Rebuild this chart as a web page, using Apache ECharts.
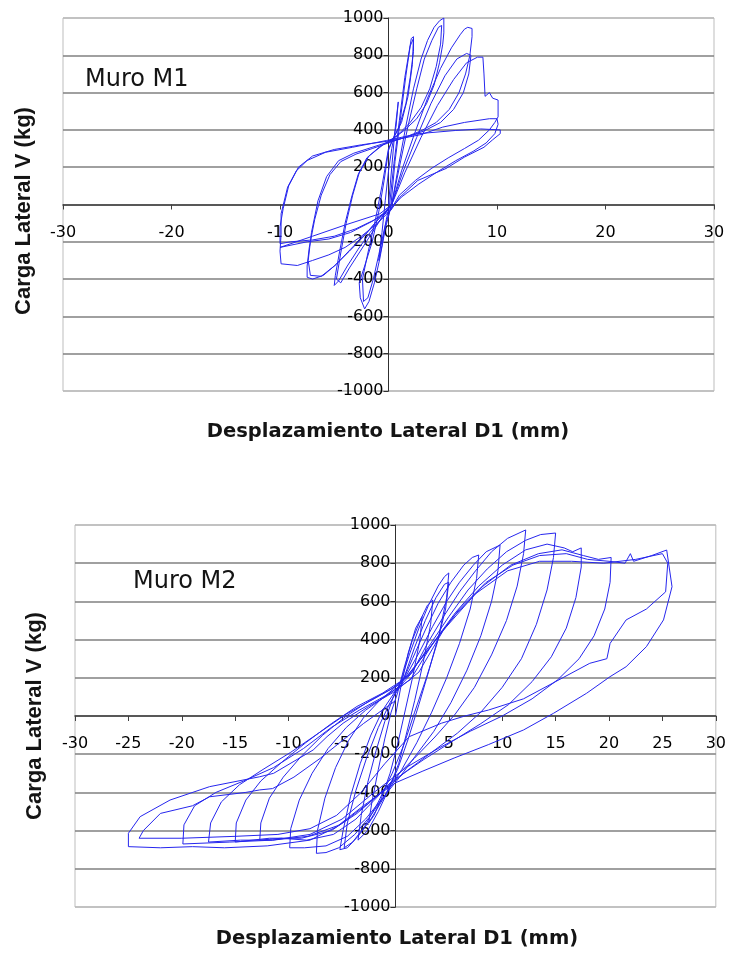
<!DOCTYPE html>
<html>
<head>
<meta charset="utf-8">
<script src="https://cdn.jsdelivr.net/npm/echarts@6/dist/echarts.min.js"></script>
<style>
html,body{margin:0;padding:0;background:#fff;}
#chart{width:729px;height:962px;}
</style>
</head>
<body>
<div id="chart"></div>
<script>
// ---- Tick values ----
const yTicks = [-1000, -800, -600, -400, -200, 0, 200, 400, 600, 800, 1000];
const m1XTicks = [-30, -20, -10, 0, 10, 20, 30];
const m2XTicks = [-30, -25, -20, -15, -10, -5, 0, 5, 10, 15, 20, 25, 30];

// ---- Muro M1 : [displacement mm, load kg] per cycle ----
const m1C1 = [[0,0],[0.3,200],[0.6,400],[0.9,550],[0.7,420],[0.3,300],[0,180],[-0.3,20],[-0.6,-150],[-0.9,-300],[-0.6,-220],[-0.2,-80],[0.1,0]];
const m1C2 = [[0.5,220],[1.0,450],[1.5,680],[1.9,820],[2.1,890],[2.3,900],[2.3,820],[2.0,680],[1.6,540],[1.0,420],[0.4,350],[0,290],[-0.4,130],[-0.9,-40],[-1.5,-200],[-2.2,-330],[-2.7,-420],[-2.6,-500],[-2.2,-560],[-1.8,-520],[-1.3,-420],[-0.8,-290],[-0.3,-130],[0.2,-20]];
const m1C3 = [[0.6,230],[1.1,460],[1.6,690],[2.0,850],[2.3,890],[2.2,750],[1.8,580],[1.2,440],[0.5,360],[0,300],[-0.6,100],[-1.2,-80],[-1.9,-260],[-2.4,-400],[-2.3,-520],[-1.9,-500],[-1.4,-400],[-0.9,-270],[-0.3,-110],[0.3,0]];
const m1C4 = [[0.9,200],[1.6,420],[2.3,620],[3.0,780],[3.6,880],[4.2,950],[4.7,985],[5.1,1000],[5.1,920],[5.0,860],[4.7,760],[4.2,640],[3.5,540],[2.6,460],[1.5,400],[0.4,350],[-0.8,310],[-2.0,250],[-2.8,160],[-3.4,40],[-4.0,-100],[-4.5,-250],[-4.9,-380],[-5.0,-434],[-4.6,-410],[-3.8,-330],[-2.8,-240],[-1.7,-150],[-0.6,-70],[0.3,0]];
const m1C5 = [[1.0,200],[1.8,420],[2.6,620],[3.3,780],[4.0,880],[4.6,950],[4.9,960],[4.8,860],[4.4,740],[3.8,620],[3.0,520],[2.0,440],[0.8,370],[-0.5,320],[-1.8,260],[-2.7,170],[-3.3,50],[-3.9,-100],[-4.4,-260],[-4.8,-400],[-4.4,-420],[-3.6,-340],[-2.6,-250],[-1.5,-150],[-0.5,-60],[0.3,0]];
const m1C6 = [[1.2,180],[2.4,380],[3.6,570],[4.8,730],[5.8,840],[6.6,910],[7.0,940],[7.3,950],[7.7,944],[7.7,900],[7.5,800],[7.1,700],[6.5,600],[5.6,510],[4.4,440],[3.0,395],[1.5,360],[0,330],[-1.5,300],[-3.0,270],[-4.4,230],[-5.4,160],[-6.2,50],[-6.8,-80],[-7.3,-230],[-7.5,-330],[-7.5,-390],[-7.0,-400],[-6.0,-380],[-4.8,-320],[-3.5,-240],[-2.0,-150],[-0.8,-70],[0.3,0]];
const m1C7 = [[1.3,170],[2.6,360],[3.9,540],[5.2,690],[6.3,780],[7.2,810],[7.6,800],[7.4,700],[6.9,600],[6.0,510],[4.8,440],[3.3,395],[1.6,360],[0,335],[-1.6,305],[-3.2,275],[-4.6,235],[-5.7,150],[-6.5,20],[-7.1,-150],[-7.4,-300],[-7.2,-380],[-6.2,-385],[-5.0,-330],[-3.6,-250],[-2.1,-160],[-0.8,-70],[0.3,0]];
const m1C8 = [[1.5,170],[3.0,360],[4.5,530],[6.0,670],[7.2,760],[8.2,790],[8.7,790],[8.8,700],[8.9,580],[9.3,600],[9.6,570],[10.1,560],[10.1,470],[9.8,440],[9.3,400],[8.3,345],[7.0,300],[5.5,250],[4.0,195],[2.5,130],[1.0,50],[0.2,-30],[-1.0,-100],[-2.5,-170],[-4.0,-230],[-5.5,-270],[-7.0,-300],[-8.4,-327],[-9.9,-318],[-10.0,-250],[-9.9,-160],[-9.9,-50],[-9.3,93],[-8.5,180],[-7.5,236],[-5.8,280],[-3.3,307],[-0.2,343],[2.8,380],[6.2,397],[8.5,405],[10.3,400]];
const m1C9 = [[10.3,380],[9.6,347],[8.8,307],[7.0,254],[5.3,193],[2.7,129],[1.05,39],[0.2,-32],[-1.2,-80],[-3.0,-130],[-5.0,-170],[-7.0,-190],[-9.0,-200],[-10.0,-210],[-10.0,-120],[-9.7,-20],[-9.2,100],[-8.3,200],[-7.0,260],[-5.0,295],[-2.5,320],[0,340],[3.0,375],[5.0,415],[7.0,440],[9.3,460],[10.0,460],[10.1,430],[9.8,380],[9.0,330],[7.8,285],[6.2,235],[4.5,175],[2.8,110],[1.2,40],[0.2,-20],[-1.5,-90],[-3.5,-150],[-5.5,-185],[-7.5,-200],[-10.0,-230],[-7.0,-170],[-4.0,-110],[-0.8,-50],[0.3,0]];

// ---- Muro M2 : [displacement mm, load kg] per cycle ----
const m2C1 = [[0,0],[0.5,150],[1.2,330],[1.9,460],[2.5,520],[2.3,400],[1.6,200],[0.8,0],[0.2,-150],[-0.5,-300],[-1.3,-430],[-2.0,-520],[-2.5,-560],[-2.2,-450],[-1.6,-280],[-1.0,-120],[-0.4,20],[0.2,120]];
const m2C2 = [[0.8,250],[1.6,400],[2.4,510],[3.0,580],[3.5,607],[3.3,480],[2.6,280],[1.8,80],[1.0,-100],[0.3,-250],[-0.6,-380],[-1.6,-500],[-2.6,-600],[-3.5,-650],[-3.2,-520],[-2.6,-350],[-1.8,-180],[-1.0,-30],[-0.2,100],[0.5,180]];
const m2C3 = [[1.3,320],[2.2,460],[3.1,580],[4.0,680],[4.6,730],[5.0,749],[4.8,620],[4.1,430],[3.2,250],[2.2,60],[1.2,-120],[0.2,-280],[-1.0,-420],[-2.3,-540],[-3.5,-630],[-4.5,-690],[-5.2,-700],[-4.9,-600],[-4.2,-420],[-3.3,-250],[-2.3,-100],[-1.2,30],[0,130],[0.8,200]];
const m2C4 = [[1.8,360],[2.8,500],[3.8,620],[4.6,690],[5.0,700],[4.7,560],[3.9,380],[2.9,200],[1.8,20],[0.8,-150],[-0.3,-300],[-1.6,-450],[-2.9,-580],[-4.0,-660],[-4.8,-690],[-4.5,-560],[-3.7,-390],[-2.7,-220],[-1.6,-60],[-0.5,70],[0.6,170]];
const m2C5 = [[1.6,300],[2.8,450],[4.0,590],[5.2,700],[6.4,790],[7.2,830],[7.8,843],[7.6,720],[7.0,560],[6.0,380],[4.8,200],[3.4,20],[2.0,-140],[0.6,-280],[-0.8,-400],[-2.3,-520],[-3.8,-620],[-5.3,-690],[-6.5,-715],[-7.4,-719],[-7.3,-600],[-6.6,-430],[-5.6,-270],[-4.4,-130],[-3.0,-10],[-1.5,80],[0,150],[1.0,210]];
const m2C6 = [[2.2,330],[3.5,470],[4.8,600],[6.0,700],[7.3,790],[8.5,860],[9.8,895],[9.6,760],[9.0,600],[8.0,420],[6.7,240],[5.2,70],[3.6,-80],[2.0,-200],[0.4,-320],[-1.2,-430],[-2.8,-540],[-4.5,-630],[-6.5,-680],[-8.5,-690],[-9.9,-690],[-9.8,-590],[-9.0,-440],[-7.8,-300],[-6.3,-170],[-4.6,-60],[-2.8,30],[-1.0,100],[0.5,160],[1.6,230]];
const m2C7 = [[3.0,380],[4.5,520],[6.0,650],[7.5,760],[9.0,860],[10.5,930],[12.2,974],[12.0,850],[11.4,680],[10.4,500],[9.0,320],[7.4,150],[5.6,10],[3.7,-110],[1.8,-220],[0,-320],[-1.8,-430],[-3.7,-540],[-5.8,-620],[-8.3,-650],[-10.7,-640],[-12.7,-650],[-12.6,-560],[-11.8,-430],[-10.5,-320],[-8.8,-210],[-6.8,-100],[-4.6,0],[-2.4,80],[-0.4,140],[1.4,220]];
const m2C8 = [[3.2,370],[5.0,520],[6.8,660],[8.6,770],[10.4,860],[12.2,920],[13.6,950],[15.0,958],[14.8,830],[14.2,660],[13.2,480],[11.8,300],[10.0,150],[8.0,20],[5.8,-90],[3.4,-190],[1.0,-290],[-1.3,-400],[-3.6,-510],[-6.0,-600],[-8.8,-640],[-11.8,-640],[-15.0,-660],[-14.9,-560],[-14.0,-440],[-12.6,-340],[-10.6,-240],[-8.4,-140],[-6.0,-40],[-3.6,50],[-1.2,120],[1.0,200]];
const m2C9 = [[3.5,380],[5.6,540],[7.8,680],[10.0,790],[12.2,870],[14.2,900],[15.8,880],[16.6,860],[17.4,880],[17.4,780],[16.9,620],[16.0,460],[14.6,310],[12.8,180],[10.6,60],[8.0,-40],[5.4,-130],[2.6,-230],[0,-330],[-2.6,-460],[-5.2,-570],[-8.2,-630],[-11.5,-650],[-14.5,-650],[-17.5,-660],[-17.3,-560],[-16.3,-450],[-14.6,-360],[-12.4,-280],[-9.8,-190],[-7.2,-90],[-4.6,10],[-2.0,90],[0.5,170]];
const m2C10 = [[3.0,340],[5.6,530],[8.2,680],[10.8,790],[13.4,850],[15.6,870],[17.6,840],[19.0,820],[20.2,830],[20.1,700],[19.6,560],[18.6,420],[17.2,300],[15.2,190],[12.8,90],[10.0,0],[7.0,-80],[4.0,-170],[1.0,-270],[-2.0,-400],[-5.0,-540],[-8.0,-620],[-11.5,-650],[-15.5,-660],[-19.9,-670],[-19.8,-570],[-18.8,-470],[-16.8,-400],[-14.2,-340],[-11.4,-270],[-8.6,-170],[-6.0,-60],[-3.4,30],[-0.8,110],[1.4,190]];
const m2C11 = [[3.5,380],[6.0,560],[8.5,700],[11.0,790],[13.5,840],[16.0,850],[18.0,820],[20.0,810],[21.5,800],[22.0,850],[22.3,810],[24.0,840],[25.4,869],[25.9,677],[25.1,503],[23.5,363],[21.6,258],[20.1,206],[17.9,119],[14.8,14],[12.0,-73],[8.7,-150],[5.5,-220],[2.5,-290],[0,-350],[-3.0,-470],[-5.5,-580],[-8.0,-650],[-12.0,-680],[-16.0,-690],[-19.0,-684],[-22.0,-690],[-25.0,-684],[-25.0,-614],[-23.9,-527],[-21.1,-440],[-17.4,-370],[-12.7,-318],[-11.4,-300],[-7.7,-178],[-6.4,-108],[-4.9,-38],[-2.5,50],[0,130],[2.2,230]];
const m2C12 = [[4.5,450],[7.5,640],[10.5,760],[13.5,810],[16.5,810],[19.5,800],[22.5,820],[25.0,850],[25.5,800],[25.3,650],[23.5,560],[21.6,503],[20.1,380],[19.8,300],[18.2,276],[15.0,180],[12.0,90],[8.7,31],[6.5,0],[4.3,-38],[1.3,-108],[-1.0,-250],[-3.2,-400],[-5.5,-520],[-8.0,-590],[-11.0,-620],[-15.0,-630],[-20.0,-640],[-24.0,-640],[-23.6,-600],[-22.0,-510],[-19.0,-470],[-17.4,-423],[-14.0,-400],[-12.7,-387],[-11.5,-380],[-9.5,-320],[-7.0,-220],[-5.0,-130],[-3.0,-40],[-1.0,40],[0,80]];

const m1Cycles = [m1C1, m1C2, m1C3, m1C4, m1C5, m1C6, m1C7, m1C8, m1C9];
const m2Cycles = [m2C1, m2C2, m2C3, m2C4, m2C5, m2C6, m2C7, m2C8, m2C9, m2C10, m2C11, m2C12];

const m1Data = [].concat(...m1Cycles);
const m2Data = [].concat(...m2Cycles);

const chart = echarts.init(document.getElementById('chart'), null, {renderer: 'canvas'});

// plot boxes (pixels)
const g1 = {left: 63, top: 18, width: 651, height: 373};
const g2 = {left: 75, top: 525, width: 641, height: 382};

const gridColors = ['#b8b8b8','#808080','#808080','#808080','#808080','#808080','#808080','#808080','#808080','#808080','#b8b8b8'];
const tickFont = {fontFamily: '"DejaVu Sans", sans-serif', fontSize: 16, color: '#000'};
const plain = v => String(v);

// axes drawn through the origin (offset moves them from the box edge to the zero line)
function xAxisDef(idx, ticks, g) {
  return {
    type: 'value', gridIndex: idx, position: 'bottom',
    offset: -(g.height / 2),
    min: ticks[0], max: ticks[ticks.length - 1], interval: ticks[1] - ticks[0],
    axisLine: {onZero: false, lineStyle: {color: '#404040', width: 1.5}},
    axisTick: {show: true, length: 5, inside: false, lineStyle: {color: '#404040'}},
    axisLabel: Object.assign({margin: 20, showMinLabel: true, showMaxLabel: true, formatter: plain}, tickFont),
    splitLine: {show: false}
  };
}
function yAxisDef(idx, g) {
  return {
    type: 'value', gridIndex: idx, position: 'left',
    offset: -(g.width / 2),
    min: yTicks[0], max: yTicks[yTicks.length - 1], interval: yTicks[1] - yTicks[0],
    axisLine: {onZero: false, lineStyle: {color: '#303030', width: 1}},
    axisTick: {show: true, length: 5, lineStyle: {color: '#303030'}},
    axisLabel: Object.assign({margin: 5, showMinLabel: true, showMaxLabel: true, formatter: plain}, tickFont),
    splitLine: {show: true, lineStyle: {color: gridColors, width: 1.7}}
  };
}

const lineStyle = {color: '#2626ee', width: 1};
const titleFont = '24px "DejaVu Sans", sans-serif';
const yTitleFont = 'bold 22px "Liberation Sans", Arial, sans-serif';
const xTitleFont = 'bold 19.5px "DejaVu Sans", sans-serif';

function txt(x, y, text, font, align, rot) {
  const el = {type: 'text', x: x, y: y, style: {text: text, font: font, fill: '#141414', align: align, verticalAlign: 'middle', textAlign: align, textVerticalAlign: 'middle'}};
  if (rot) el.rotation = rot;
  return el;
}

chart.setOption({
  animation: false,
  backgroundColor: '#ffffff',
  grid: [
    Object.assign({show: true, borderColor: '#bdbdbd', borderWidth: 1, backgroundColor: '#fff'}, g1),
    Object.assign({show: true, borderColor: '#bdbdbd', borderWidth: 1, backgroundColor: '#fff'}, g2)
  ],
  xAxis: [xAxisDef(0, m1XTicks, g1), xAxisDef(1, m2XTicks, g2)],
  yAxis: [yAxisDef(0, g1), yAxisDef(1, g2)],
  series: [
    {type: 'line', xAxisIndex: 0, yAxisIndex: 0, data: m1Data, showSymbol: false, symbol: 'none', lineStyle: lineStyle, z: 5},
    {type: 'line', xAxisIndex: 1, yAxisIndex: 1, data: m2Data, showSymbol: false, symbol: 'none', lineStyle: lineStyle, z: 5}
  ],
  graphic: [
    txt(85, 80, 'Muro M1', titleFont, 'left'),
    txt(133, 582, 'Muro M2', titleFont, 'left'),
    txt(24, 211, 'Carga Lateral V (kg)', yTitleFont, 'center', Math.PI / 2),
    txt(35, 716, 'Carga Lateral V (kg)', yTitleFont, 'center', Math.PI / 2),
    txt(388, 432, 'Desplazamiento Lateral D1 (mm)', xTitleFont, 'center'),
    txt(397, 939, 'Desplazamiento Lateral D1 (mm)', xTitleFont, 'center')
  ]
});
</script>
</body>
</html>
